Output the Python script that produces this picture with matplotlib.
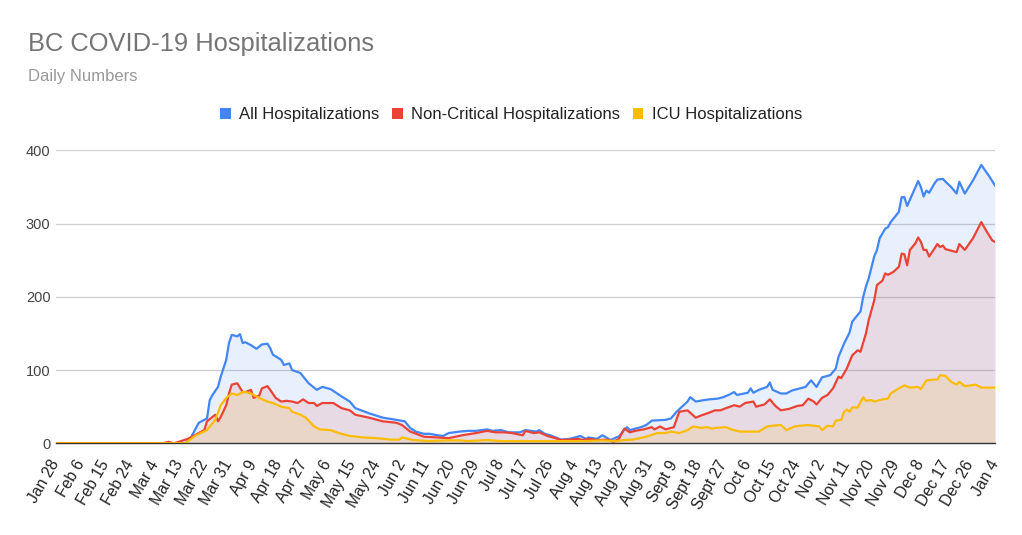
import matplotlib
matplotlib.use("Agg")
import matplotlib.pyplot as plt
import matplotlib.transforms as mtransforms
from matplotlib.patches import Patch

# (day offset from Jan 28 2020, value)
all_hosp = [(0, 0), (47, 0), (49, 7), (52, 28), (55, 34), (56, 59), (57, 66), (59, 77), (60, 91), (62, 114),
            (63, 137), (64, 148), (66, 146), (67, 149), (68, 137), (69, 138), (71, 134), (73, 129), (75, 135),
            (77, 136), (78, 130), (79, 121), (82, 114), (83, 107), (85, 109), (86, 100), (89, 96), (92, 82),
            (95, 73), (97, 77), (100, 74), (102, 69), (104, 64), (107, 57), (109, 48), (114, 41), (119, 35),
            (124, 32), (127, 30), (129, 21), (131, 16), (134, 13), (136, 13), (139, 11), (141, 10), (143, 14),
            (147, 16), (150, 17), (153, 17), (157, 19), (159, 17), (162, 18), (165, 15), (169, 15), (171, 18),
            (175, 16), (176, 18), (178, 13), (180, 11), (184, 5), (187, 6), (191, 10), (193, 6), (194, 8),
            (197, 6), (199, 11), (202, 4.5), (204, 8), (205, 9), (207, 19), (208, 22), (209, 18), (213, 22),
            (215, 25), (217, 31), (222, 32), (224, 34), (226, 43), (228, 50), (230, 57), (231, 63), (233, 57),
            (236, 59), (238, 60), (241, 61), (243, 63), (245, 66), (247, 70), (248, 66), (252, 69), (253, 75),
            (254, 69), (256, 73), (259, 77), (260, 83), (261, 73), (264, 68), (266, 68), (268, 72), (271, 75),
            (273, 77), (275, 86), (277, 77), (279, 90), (282, 93), (284, 102), (285, 118), (287, 136), (289, 151),
            (290, 166), (293, 180), (294, 200), (295, 214), (296, 225), (298, 255), (299, 264), (300, 280),
            (302, 293), (303, 295), (304, 302), (307, 316), (308, 336), (309, 336), (310, 324), (312, 341),
            (314, 358), (315, 350), (316, 337), (317, 345), (318, 342), (320, 355), (321, 360), (323, 361),
            (324, 357), (326, 350), (328, 341), (329, 357), (331, 341), (334, 359), (337, 380), (340, 364),
            (342, 352)]

noncrit_hosp = [(0, 0), (39, 0), (41, 2), (43, 0), (48, 6), (52, 14), (54, 18), (55, 30), (57, 36), (58, 39),
                (59, 30), (60, 36), (62, 52), (63, 68), (64, 80), (66, 82), (68, 70), (69, 70), (71, 73), (72, 62),
                (74, 65), (75, 75), (77, 78), (78, 73), (80, 62), (82, 57), (84, 58), (86, 57), (88, 55), (90, 60),
                (92, 55), (94, 55), (95, 51), (97, 55), (101, 55), (104, 48), (107, 45), (109, 39), (114, 35),
                (119, 30), (124, 28), (126, 25), (129, 16), (134, 9), (139, 8), (143, 7), (148, 11), (153, 14),
                (157, 17), (160, 15), (163, 15), (166, 14), (170, 11), (171, 17), (174, 14), (176, 15), (179, 10),
                (181, 8), (184, 4.5), (187, 5), (190, 6), (192, 4.5), (194, 6), (197, 4.5), (201, 5), (203, 2),
                (205, 6), (207, 20), (209, 15), (211, 17), (214, 19), (217, 22), (218, 19), (220, 23), (222, 19),
                (225, 22), (227, 43), (230, 45), (233, 35), (235, 38), (238, 42), (240, 45), (242, 45), (244, 48),
                (247, 52), (249, 50), (251, 55), (254, 57), (255, 50), (258, 53), (260, 60), (262, 51), (264, 45),
                (267, 47), (270, 51), (272, 52), (274, 61), (276, 57), (277, 53), (279, 62), (281, 66), (283, 75),
                (285, 91), (286, 89), (288, 102), (290, 120), (292, 127), (293, 125), (295, 150), (296, 168),
                (298, 195), (299, 216), (301, 222), (302, 232), (303, 230), (305, 234), (307, 241), (308, 259),
                (309, 258), (310, 243), (311, 264), (313, 273), (314, 281), (315, 275), (316, 264), (317, 264),
                (318, 255), (320, 266), (321, 272), (322, 268), (323, 270), (324, 265), (328, 261), (329, 272),
                (331, 264), (334, 280), (337, 302), (339, 289), (341, 277), (342, 275)]

icu_hosp = [(0, 0), (47, 0), (51, 11), (55, 18), (58, 32), (60, 52), (62, 62), (64, 68), (66, 66), (68, 70),
            (69, 70), (71, 68), (73, 64), (74, 62), (77, 57), (79, 55), (82, 50), (85, 48), (86, 43), (89, 39),
            (91, 35), (94, 23), (96, 19), (100, 18), (103, 14), (107, 10), (112, 8), (117, 7), (122, 5), (125, 5),
            (126, 8), (130, 4.5), (136, 3), (142, 4), (147, 4), (150, 3), (157, 4.5), (162, 3), (169, 3),
            (176, 3), (185, 3), (192, 3), (199, 4), (204, 3), (207, 4.5), (210, 5), (215, 9), (219, 14),
            (222, 14), (224, 16), (227, 14), (230, 18), (232, 23), (235, 21), (237, 22), (239, 20), (240, 21),
            (244, 22), (246, 19), (249, 16), (256, 16), (259, 23), (261, 24), (264, 25), (266, 18), (269, 23),
            (271, 24), (274, 25), (278, 23), (279, 18), (281, 24), (283, 23), (284, 31), (286, 32), (287, 43),
            (288, 46), (289, 43), (290, 49), (292, 49), (294, 63), (295, 58), (297, 59), (298, 57), (301, 60),
            (303, 61), (304, 68), (307, 75), (309, 79), (311, 76), (314, 77), (315, 74), (317, 86), (320, 87),
            (321, 87), (322, 93), (324, 92), (326, 84), (328, 80), (329, 84), (331, 78), (335, 80), (337, 76),
            (342, 76)]

tick_days = list(range(0, 343, 9))
tick_labels = ["Jan 28", "Feb 6", "Feb 15", "Feb 24", "Mar 4", "Mar 13", "Mar 22", "Mar 31", "Apr 9", "Apr 18",
               "Apr 27", "May 6", "May 15", "May 24", "Jun 2", "Jun 11", "Jun 20", "Jun 29", "Jul 8", "Jul 17",
               "Jul 26", "Aug 4", "Aug 13", "Aug 22", "Aug 31", "Sept 9", "Sept 18", "Sept 27", "Oct 6", "Oct 15",
               "Oct 24", "Nov 2", "Nov 11", "Nov 20", "Nov 29", "Dec 8", "Dec 17", "Dec 26", "Jan 4"]
y_ticks = [0, 100, 200, 300, 400]

series_names = ["All Hospitalizations", "Non-Critical Hospitalizations", "ICU Hospitalizations"]
colors = ["#4285F4", "#EA4335", "#FBBC04"]

plt.rcParams["font.family"] = ["Liberation Sans", "DejaVu Sans"]

W, H = 1022, 535
fig = plt.figure(figsize=(W / 100, H / 100), dpi=100)
left, right, top, bottom = 56, 995, 150.3, 443.3
ax = fig.add_axes([left / W, 1 - bottom / H, (right - left) / W, (bottom - top) / H])

data = []
for series in (all_hosp, noncrit_hosp, icu_hosp):
    d = [p[0] for p in series]
    v = [p[1] for p in series]
    data.append((d, v))

for (d, v), c in zip(data, colors):
    ax.fill_between(d, 0, v, color=c, alpha=0.12, linewidth=0, zorder=2)
for (d, v), c, n in zip(data, colors, series_names):
    ax.plot(d, v, color=c, lw=1.6, zorder=3, label=n, solid_joinstyle="round")

ax.set_xlim(0, 342)
ax.set_ylim(0, 400)
ax.set_yticks(y_ticks)
ax.set_yticklabels([str(t) for t in y_ticks], fontsize=10.5, color="#444444")
ax.set_xticks(tick_days)
ax.set_xticklabels(tick_labels, rotation=60, ha="right", va="center", rotation_mode="anchor",
                   fontsize=11.3, color="#222222")
offset = mtransforms.ScaledTranslation(6 / 100, 0, fig.dpi_scale_trans)
for lab in ax.get_xticklabels():
    lab.set_transform(lab.get_transform() + offset)
ax.tick_params(axis="both", length=0)
ax.tick_params(axis="x", pad=13)
ax.tick_params(axis="y", pad=4)
ax.grid(axis="y", color="#cccccc", lw=0.9, zorder=0)
for s in ["top", "right", "left"]:
    ax.spines[s].set_visible(False)
ax.spines["bottom"].set_color("#333333")
ax.spines["bottom"].set_linewidth(1.0)
ax.spines["bottom"].set_zorder(2.5)

fig.text(28 / W, 1 - 44 / H, "BC COVID-19 Hospitalizations", fontsize=18.4, color="#757575", va="center", ha="left")
fig.text(28 / W, 1 - 77 / H, "Daily Numbers", fontsize=12, color="#999999", va="center", ha="left")

leg_handles = [Patch(facecolor=c, edgecolor="none") for c in colors]
fig.legend(leg_handles, series_names, loc="center", bbox_to_anchor=(511 / W, 1 - 115 / H), ncol=3, frameon=False,
           fontsize=12, handlelength=0.65, handleheight=0.65, handletextpad=0.5, columnspacing=0.75,
           labelcolor="#222222")

fig.savefig("out.png", dpi=100)
